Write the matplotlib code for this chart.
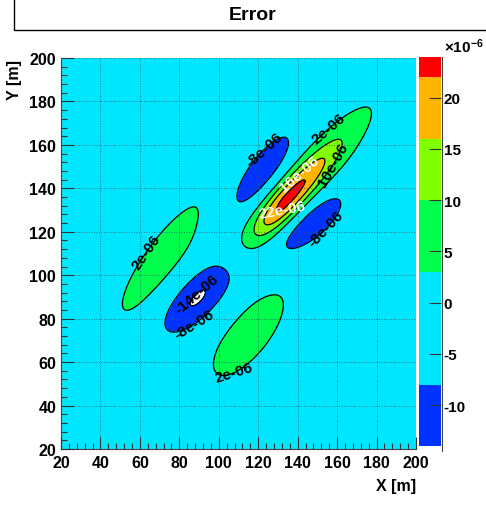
import numpy as np
import matplotlib
matplotlib.use("Agg")
import matplotlib.pyplot as plt
from matplotlib.ticker import MultipleLocator, AutoMinorLocator
from matplotlib.patches import Rectangle
from matplotlib.lines import Line2D

plt.rcParams["font.family"] = ["Liberation Sans", "DejaVu Sans"]
plt.rcParams["font.weight"] = "bold"
plt.rcParams["mathtext.fontset"] = "custom"
plt.rcParams["mathtext.rm"] = "Liberation Sans"
plt.rcParams["mathtext.bf"] = "Liberation Sans:bold"

# === Lobes de l'erreur (unites 1e-6) ===
lobe_cx = [134.6, 121.8, 147.4, 89.6, 72.0, 115.0]
lobe_cy = [134.6, 148.2, 123.6, 89.8, 107.5, 73.0]
lobe_amp = [24.6, -13.0, -13.0, -14.6, 5.5, 5.5]
lobe_angle = [45, 49, 38, 42, 51, 48]
lobe_back = [19.0, 20.0, 18.0, 20.0, 29.0, 22.0]
lobe_fwd = [29.0, 20.0, 18.0, 20.0, 29.0, 22.0]
lobe_across = [5.5, 6.3, 6.3, 8.0, 8.0, 9.0]

levels = [-14, -8, 3, 10, 16, 22, 23.8]
level_labels = {-14: "-14e-06", -8: "-8e-06", 3: "2e-06", 10: "10e-06",
                16: "16e-06", 22: "22e-06"}
band_colors = ["#0033ff", "#00e6ff", "#00ff4c", "#80ff00", "#ffb400", "#ff0000"]
cbar_ticks = [-10, -5, 0, 5, 10, 15, 20]

# positions des etiquettes (niveau, x, y)
label_level = [-8, 3, 10, 16, 22, -8, 3, -14, -8, 3]
label_x = [124.3, 156.4, 158.1, 141.2, 131.9, 154.7, 65.1, 88.8, 87.1, 105.7]
label_y = [156.6, 167.3, 151.2, 146.6, 130.5, 121.3, 109.8, 91.3, 78.3, 59.1]

# === Grille ===
xs = np.linspace(20, 200, 361)
ys = np.linspace(20, 200, 361)
X, Y = np.meshgrid(xs, ys)
Z = np.zeros_like(X)
for cx, cy, a, ang, lb, lf, lw in zip(lobe_cx, lobe_cy, lobe_amp, lobe_angle,
                                      lobe_back, lobe_fwd, lobe_across):
    t = np.radians(ang)
    dx, dy = X - cx, Y - cy
    u = dx * np.cos(t) + dy * np.sin(t)
    v = -dx * np.sin(t) + dy * np.cos(t)
    L = np.where(u < 0, lb, lf)
    Z += a * np.exp(-u**2 / (2 * L**2) - v**2 / (2 * lw**2))

levels[-1] = max(levels[-1], float(Z.max()) + 0.01)

# === Figure ===
fig = plt.figure(figsize=(4.86, 5.06), dpi=100)
ax = fig.add_axes([61/486, 1-450/506, 355/486, 391/506])
ax.set_facecolor("white")

cf = ax.contourf(X, Y, Z, levels=levels, colors=band_colors)

# une courbe par niveau, pour placer les etiquettes a la main
line_sets = {}
for lev in levels[:-1]:
    line_sets[lev] = ax.contour(X, Y, Z, levels=[lev], colors="k",
                                linewidths=0.9, linestyles="solid")

for lev, lx, ly in zip(label_level, label_x, label_y):
    col = "white" if lev in (16, 22) else "black"
    txt = ax.clabel(line_sets[lev], manual=[(lx, ly)], fmt=level_labels,
                    colors=col, inline=False, fontsize=11)
    for tt in txt:
        tt.set_fontweight("bold")

ax.set_xlim(20, 200)
ax.set_ylim(20, 200)
ax.xaxis.set_major_locator(MultipleLocator(20))
ax.yaxis.set_major_locator(MultipleLocator(20))
ax.xaxis.set_minor_locator(AutoMinorLocator(5))
ax.yaxis.set_minor_locator(AutoMinorLocator(5))
ax.tick_params(which="both", direction="in", colors="#333333", labelcolor="black",
               labelsize=11.5, top=False, right=False)
ax.tick_params(which="major", length=9, width=0.8)
ax.tick_params(which="minor", length=4.5, width=0.8)
ax.tick_params(axis="x", pad=4)
for lab in ax.get_xticklabels() + ax.get_yticklabels():
    lab.set_fontweight("bold")
ax.grid(True, which="major", color="#335566", linestyle=(0, (1, 2)), linewidth=0.6)
ax.set_axisbelow(False)
for s in ["top", "right"]:
    ax.spines[s].set_visible(False)
for s in ["left", "bottom"]:
    ax.spines[s].set_color("#444444")
    ax.spines[s].set_linewidth(0.8)

fig.text(416/486, 1-487/506, "X [m]", ha="right", va="center", fontsize=11.5,
         fontweight="bold")
fig.text(14/486, 1-60/506, "Y [m]", ha="center", va="top", rotation=90,
         fontsize=11.5, fontweight="bold")

# === Palette ===
cax = fig.add_axes([419/486, 1-447/506, 22/486, 389/506])
cb = fig.colorbar(cf, cax=cax, ticks=cbar_ticks, spacing="proportional")
cb.outline.set_visible(False)
cb.ax.tick_params(direction="in", length=9, width=0.8, colors="#333333",
                  labelcolor="black", labelsize=11, pad=2)
cb.ax.set_yticklabels([str(t) for t in cbar_ticks], fontweight="bold")
cb.ax.minorticks_off()
fig.add_artist(Line2D([441.5/486, 441.5/486], [1-452/506, 1-58/506],
                      color="#444444", lw=0.8, transform=fig.transFigure))
fig.text(444/486, 1-47/506, r"$\times\mathbf{10^{-6}}$", ha="left", va="center",
         fontsize=11)

# === Titre ===
fig.add_artist(Rectangle((14/486, 1-31/506), 1.0, 0.2, transform=fig.transFigure,
                         facecolor="white", edgecolor="black", lw=1.0))
fig.text(253/486, 1-16/506, "Error", ha="center", va="center", fontsize=14,
         fontweight="bold")

fig.savefig("out.png", dpi=100)
